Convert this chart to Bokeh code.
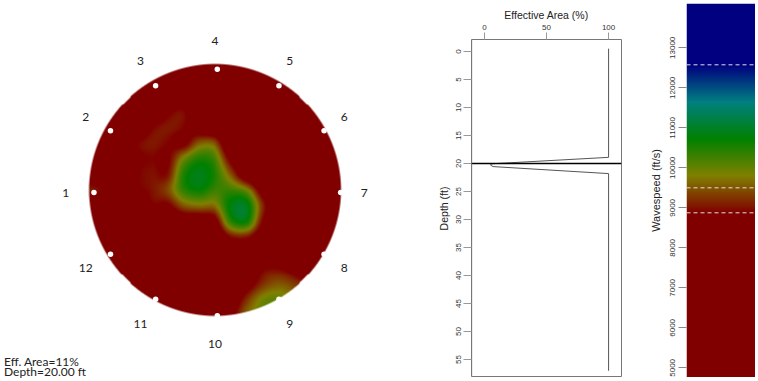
import numpy as np
from bokeh.plotting import figure
from bokeh.layouts import row, column
from bokeh.models import Range1d, FixedTicker, Span, BoxAnnotation, LinearColorMapper
from bokeh.core.properties import value
from bokeh.embed import file_html
from bokeh.resources import INLINE

# ---------------- data ----------------
sensor_labels = ["1", "2", "3", "4", "5", "6", "7", "8", "9", "10", "11", "12"]
sensor_angles_deg = [180, 150, 120, 90, 60, 30, 0, -30, -60, -90, -120, -150]

# tomogram wavespeed (ft/s), 17x17 grid over the section, top row first
wavespeed_grid = [
    [8000] * 17,
    [8000] * 17,
    [8000] * 17,
    [8000, 8000, 8000, 8000, 8000, 8700, 8900, 8000, 8000, 8000, 8000, 8000, 8000, 8000, 8000, 8000, 8000],
    [8000, 8000, 8000, 8000, 8800, 9050, 8900, 8300, 8000, 8000, 8000, 8000, 8000, 8000, 8000, 8000, 8000],
    [8000, 8000, 8000, 8800, 9050, 8900, 8700, 9500, 9400, 8000, 8000, 8000, 8000, 8000, 8000, 8000, 8000],
    [8000, 8000, 8000, 8700, 8900, 8800, 9900, 10500, 10200, 8700, 8000, 8000, 8000, 8000, 8000, 8000, 8000],
    [8000, 8000, 8000, 8800, 9000, 9000, 10500, 10900, 10500, 9500, 8300, 8000, 8000, 8000, 8000, 8000, 8000],
    [9100, 8800, 8000, 8700, 9000, 9400, 10400, 10700, 10300, 10300, 9900, 8500, 8000, 8000, 8000, 8000, 8000],
    [8000, 8000, 8000, 8000, 8800, 8800, 9500, 9700, 9700, 10800, 10900, 9200, 8000, 8000, 8000, 8000, 8000],
    [8000, 8000, 8000, 8000, 8000, 8000, 8300, 8300, 8600, 10400, 10700, 8900, 8000, 8000, 8000, 8000, 8000],
    [8000, 8000, 8000, 8000, 8000, 8000, 8000, 8000, 8000, 8900, 9000, 8300, 8000, 8000, 8000, 8000, 8000],
    [8000] * 17,
    [8000, 8000, 8000, 8000, 8000, 8000, 8000, 8000, 8000, 8000, 8000, 8800, 8900, 8600, 8000, 8000, 8000],
    [8000, 8000, 8000, 8000, 8000, 8000, 8000, 8000, 8000, 8000, 8500, 9200, 9500, 9300, 8900, 8000, 8000],
    [8000, 8000, 8000, 8000, 8000, 8000, 8000, 8000, 8000, 8300, 9200, 9900, 10000, 9700, 9000, 8000, 8000],
    [8000, 8000, 8000, 8000, 8000, 8000, 8000, 8000, 8000, 8600, 9600, 10000, 10000, 9800, 9000, 8000, 8000],
]

depth_ft = [-0.5, 18.9, 20.05, 20.3, 20.55, 21.8, 57.0]
eff_area_pct = [100, 100, 5.6, 5.0, 7.0, 100, 100]
current_depth_ft = 20.0
current_eff_area_pct = 11

area_ticks = [0, 50, 100]
depth_ticks = [0, 5, 10, 15, 20, 25, 30, 35, 40, 45, 50, 55]
wavespeed_ticks = [5000, 6000, 7000, 8000, 9000, 10000, 11000, 12000, 13000]
wavespeed_span = [4758, 14108]
color_stops_ws = [8875, 9800, 10725, 11650, 12575]
color_stops_rgb = [(128, 0, 0), (128, 128, 0), (0, 128, 0), (0, 128, 128), (0, 0, 128)]
threshold_ws = [12575, 9500, 8875]

# ---------------- helpers ----------------
def ws_to_rgb(ws):
    ws = np.asarray(ws, float)
    return [np.interp(ws, color_stops_ws, [c[k] for c in color_stops_rgb]) for k in range(3)]


def cr_matrix(n, N):
    t = np.linspace(0, n - 1, N)
    W = np.zeros((N, n))
    for r_, tt in enumerate(t):
        i = min(int(np.floor(tt)), n - 2)
        f = tt - i
        w = [(-f**3 + 2 * f**2 - f) / 2, (3 * f**3 - 5 * f**2 + 2) / 2,
             (-3 * f**3 + 4 * f**2 + f) / 2, (f**3 - f**2) / 2]
        for k, wk in zip(range(i - 1, i + 3), w):
            W[r_, min(max(k, 0), n - 1)] += wk
    return W

TXT = "#222222"
FONT_C = value("Lato")
FONT_A = "Liberation Sans"

# ---------------- tomogram ----------------
G = np.array(wavespeed_grid, float)[::-1]  # bottom row first for bokeh image
n = G.shape[0]
N = 256
W = cr_matrix(n, N)
fine = W @ G @ W.T
R, Gc, B = ws_to_rgb(fine)
xs = np.linspace(-1, 1, N)
X, Y = np.meshgrid(xs, xs)
rr = np.sqrt(X**2 + Y**2)
alpha = np.clip((1 - rr) * (N / 2) + 0.5, 0, 1) * 255
img = np.empty((N, N), dtype=np.uint32)
view = img.view(dtype=np.uint8).reshape((N, N, 4))
view[..., 0] = R.astype(np.uint8)
view[..., 1] = Gc.astype(np.uint8)
view[..., 2] = B.astype(np.uint8)
view[..., 3] = alpha.astype(np.uint8)

p1 = figure(width=431, height=378, x_range=Range1d(-1.672, 1.735), y_range=Range1d(-1.514, 1.474),
            output_backend="svg", toolbar_location=None, x_axis_type=None, y_axis_type=None,
            min_border=0)
p1.outline_line_color = None
p1.xgrid.visible = False
p1.ygrid.visible = False
p1.image_rgba(image=[img], x=-1, y=-1, dw=2, dh=2)

ang = np.radians(sensor_angles_deg)
p1.scatter(x=0.018 + 0.975 * np.cos(ang), y=-0.02 + 0.975 * np.sin(ang), size=5.5,
           fill_color="white", line_color=None)
p1.text(x=0.0 + 1.18 * np.cos(ang), y=-0.02 + 1.2 * np.sin(ang), text=sensor_labels,
        text_font=FONT_C, text_font_size="12px", text_align="center", text_baseline="middle",
        text_color=TXT)
p1.text(x=[-1.668, -1.668], y=[-1.352, -1.435],
        text=["Eff. Area=%d%%" % current_eff_area_pct, "Depth=%.2f ft" % current_depth_ft],
        text_font=FONT_C, text_font_size="12px", text_align="left", text_baseline="middle",
        text_color=TXT)

# ---------------- effective area vs depth ----------------
p2 = figure(width=188, height=374, x_range=Range1d(-10.4, 110.4), y_range=Range1d(58.2, -2.14),
            output_backend="svg", toolbar_location=None, x_axis_location="above",
            min_border_left=36, min_border_top=36, min_border_right=1, min_border_bottom=0)
p2.xgrid.visible = False
p2.ygrid.visible = False
p2.outline_line_color = "#777777"
p2.line(eff_area_pct, depth_ft, line_color="#555555", line_width=1)
p2.add_layout(Span(location=current_depth_ft, dimension="width", line_color="black", line_width=1.5))
p2.add_layout(BoxAnnotation(left=0.5, right=187.5, top=0.5, bottom=373.5,
                            left_units="screen", right_units="screen",
                            top_units="screen", bottom_units="screen",
                            fill_alpha=0, line_color="#777777", line_width=1))
xa = p2.xaxis[0]
xa.ticker = FixedTicker(ticks=area_ticks)
xa.axis_label = "Effective Area (%)"
ya = p2.yaxis[0]
ya.ticker = FixedTicker(ticks=depth_ticks)
ya.axis_label = "Depth (ft)"
ya.major_label_orientation = "vertical"
for ax, tick_out, lab_so, ttl_so in ((xa, 7, 3, 1), (ya, 8, 2, 4)):
    ax.axis_line_color = None
    ax.minor_tick_line_color = None
    ax.major_tick_in = 0
    ax.major_tick_out = tick_out
    ax.major_tick_line_color = "#999999"
    ax.major_label_standoff = lab_so
    ax.axis_label_standoff = ttl_so
    ax.major_label_text_font = FONT_A
    ax.major_label_text_font_size = "8px"
    ax.major_label_text_color = "#333333"
    ax.axis_label_text_font = FONT_A
    ax.axis_label_text_font_size = "10.5px"
    ax.axis_label_text_font_style = "normal"
    ax.axis_label_text_color = TXT

# ---------------- colour bar ----------------
ws_min, ws_max = wavespeed_span
palette = []
for v in np.linspace(color_stops_ws[0], color_stops_ws[-1], 256):
    c = ws_to_rgb([v])
    palette.append("#%02x%02x%02x" % tuple(int(round(ch[0])) for ch in c))
mapper = LinearColorMapper(palette=palette, low=color_stops_ws[0], high=color_stops_ws[-1],
                           low_color=palette[0], high_color=palette[-1])
col = np.linspace(ws_min, ws_max, 600).reshape(-1, 1)

p3 = figure(width=133, height=374, x_range=Range1d(0, 1), y_range=Range1d(ws_min, ws_max),
            output_backend="svg", toolbar_location=None, x_axis_type=None,
            min_border_left=64, min_border_right=0, min_border_top=0, min_border_bottom=0)
p3.outline_line_color = None
p3.xgrid.visible = False
p3.ygrid.visible = False
p3.image(image=[col], x=0, y=ws_min, dw=1, dh=ws_max - ws_min, color_mapper=mapper)
for t in threshold_ws:
    p3.add_layout(Span(location=t, dimension="width", line_color="#e0e0e0", line_width=1,
                       line_dash="4 3"))
ca = p3.yaxis[0]
ca.ticker = FixedTicker(ticks=wavespeed_ticks)
ca.axis_label = "Wavespeed (ft/s)"
ca.major_label_orientation = "vertical"
ca.axis_line_color = None
ca.minor_tick_line_color = None
ca.major_tick_in = 0
ca.major_tick_out = 8
ca.major_tick_line_color = "#888888"
ca.major_label_standoff = 3
ca.axis_label_standoff = 6
ca.major_label_text_font = FONT_A
ca.major_label_text_font_size = "8px"
ca.major_label_text_color = "#333333"
ca.axis_label_text_font = FONT_A
ca.axis_label_text_font_size = "11px"
ca.axis_label_text_font_style = "normal"
ca.axis_label_text_color = TXT

for p in (p1, p2, p3):
    if "frame_align" in p.properties():
        p.frame_align = False

layout = row(column(p1), column(p2), column(p3),
             styles={"margin-left": "3px", "margin-top": "3px"})
open("out.html", "w").write(file_html(layout, INLINE))
